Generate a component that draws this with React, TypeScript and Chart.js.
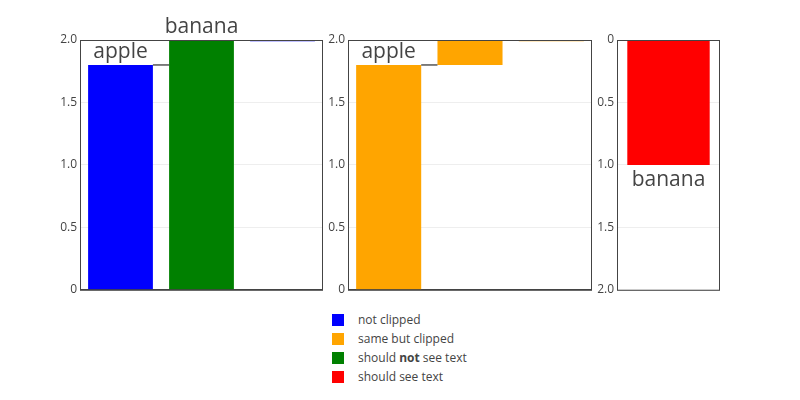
import { useEffect, useRef } from 'react'
import { Chart, registerables } from 'chart.js'

Chart.register(...registerables)

const categories = ['apple', 'banana', 'total']
const notClipped: ([number, number] | null)[] = [[0, 1.8], null, [1.99, 2.0]]
const shouldNotSee: ([number, number] | null)[] = [null, [0, 2.2], null]
const sameClipped: ([number, number] | null)[] = [[0, 1.8], [1.8, 2.2], [1.99, 2.0]]
const shouldSee: [number, number][] = [[0, 1]]
const yTicks = [0, 0.5, 1, 1.5, 2]

const FONT = '"Open Sans", "DejaVu Sans", sans-serif'
const TXT = '#444'

type Lbl = { ds: number; i: number; text: string }

function framePlugin(labels: Lbl[], connectors: boolean) {
  return {
    id: 'frame',
    afterDatasetsDraw(chart: any) {
      const { ctx, chartArea: a } = chart
      const y = chart.scales.y
      ctx.save()
      if (connectors) {
        const m0 = chart.getDatasetMeta(0)
        const d0 = chart.data.datasets[0].data
        const ends = [1.8, 2.0]
        ctx.strokeStyle = '#000'
        ctx.lineWidth = 1
        ctx.beginPath()
        ctx.rect(a.left, a.top, a.right - a.left, a.bottom - a.top)
        ctx.clip()
        for (let k = 0; k < 2; k++) {
          const bar = m0.data[k] && d0[k] ? m0.data[k] : chart.getDatasetMeta(1).data[k]
          const next = m0.data[k + 1]
          const x1 = bar.x + bar.width / 2
          const x2 = next.x - next.width / 2
          const yy = y.getPixelForValue(ends[k])
          ctx.beginPath()
          ctx.moveTo(x1, yy)
          ctx.lineTo(x2, yy)
          ctx.stroke()
        }
      }
      ctx.restore()
      ctx.save()
      ctx.strokeStyle = TXT
      ctx.lineWidth = 1
      ctx.strokeRect(a.left + 0.5, a.top + 0.5, a.right - a.left - 1, a.bottom - a.top)
      ctx.font = `21px ${FONT}`
      ctx.fillStyle = TXT
      ctx.textAlign = 'center'
      labels.forEach((l) => {
        const el = chart.getDatasetMeta(l.ds).data[l.i]
        const v = chart.data.datasets[l.ds].data[l.i]
        const endPx = y.getPixelForValue(Math.min(v[1], 2))
        if (y.options.reverse) {
          ctx.textBaseline = 'top'
          ctx.fillText(l.text, el.x, endPx + 5)
        } else {
          ctx.textBaseline = 'bottom'
          ctx.fillText(l.text, el.x, endPx - 2)
        }
      })
      ctx.restore()
    },
  }
}

function config(datasets: any[], labels: string[], lbls: Lbl[], reverse: boolean, connectors: boolean, padRight: number): any {
  return {
    type: 'bar',
    data: { labels, datasets },
    options: {
      animation: false,
      responsive: true,
      maintainAspectRatio: false,
      layout: { padding: { top: 40, bottom: 10, right: padRight, left: 0 } },
      plugins: { legend: { display: false }, tooltip: { enabled: false } },
      scales: {
        x: { display: false, stacked: true },
        y: {
          min: 0,
          max: 2,
          reverse,
          afterFit: (s: any) => { s.width = 50 },
          afterBuildTicks: (s: any) => { s.ticks = yTicks.map((v) => ({ value: v })) },
          ticks: { color: TXT, font: { family: FONT, size: 12 }, padding: 3 },
          grid: { color: (c: any) => (c.tick.value === 0 && !reverse ? TXT : '#eee'), drawTicks: false },
          border: { display: false },
        },
      },
    },
    plugins: [framePlugin(lbls, connectors)],
  }
}

function Panel({ cfg, left, width }: { cfg: any; left: number; width: number }) {
  const ref = useRef<HTMLCanvasElement | null>(null)
  useEffect(() => {
    if (!ref.current) return
    const c = new Chart(ref.current, cfg)
    return () => c.destroy()
  }, [])
  return (
    <div style={{ position: 'absolute', left, top: 0, width, height: 300 }}>
      <canvas ref={ref} />
    </div>
  )
}

const bar = { categoryPercentage: 1, barPercentage: 0.8, grouped: false }

export default function App() {
  const c1 = config(
    [
      { ...bar, data: notClipped, backgroundColor: 'blue' },
      { ...bar, data: shouldNotSee, backgroundColor: 'green' },
    ],
    categories,
    [{ ds: 0, i: 0, text: 'apple' }, { ds: 1, i: 1, text: 'banana' }],
    false, true, 7,
  )
  const c2 = config(
    [{ ...bar, data: sameClipped, backgroundColor: 'orange' }],
    categories,
    [{ ds: 0, i: 0, text: 'apple' }],
    false, true, 6,
  )
  const c3 = config(
    [{ ...bar, data: shouldSee, backgroundColor: 'red' }],
    ['banana'],
    [{ ds: 0, i: 0, text: 'banana' }],
    true, false, 7,
  )
  const legend = [
    ['blue', <>not clipped</>],
    ['orange', <>same but clipped</>],
    ['green', <>should <b>not</b> see text</>],
    ['red', <>should see text</>],
  ] as const
  return (
    <div style={{ position: 'fixed', left: 0, top: 0, width: 800, height: 400, background: '#fff', fontFamily: FONT }}>
      <Panel cfg={c1} left={30} width={300} />
      <Panel cfg={c2} left={298} width={300} />
      <Panel cfg={c3} left={567} width={160} />
      <div style={{ position: 'absolute', left: 332, top: 310 }}>
        {legend.map(([col, t], i) => (
          <div key={i} style={{ display: 'flex', alignItems: 'center', height: 19, fontSize: 12, color: TXT }}>
            <span style={{ width: 12, height: 12, background: col, display: 'inline-block', marginRight: 14 }} />
            <span>{t}</span>
          </div>
        ))}
      </div>
    </div>
  )
}
